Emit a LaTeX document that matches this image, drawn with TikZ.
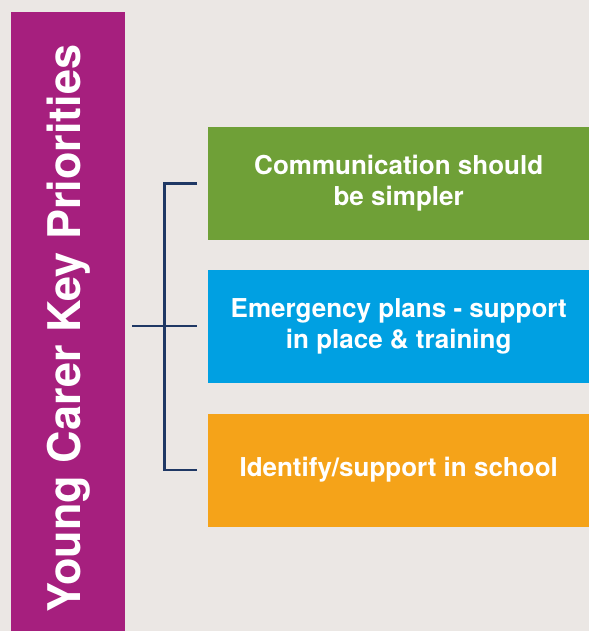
\documentclass[tikz,border=0pt]{standalone}
\usepackage{fontspec}
\setmainfont{TeX Gyre Heros}
\usetikzlibrary{positioning}
\definecolor{paper}{HTML}{EBE7E4}
\definecolor{plum}{HTML}{A61F7E}
\definecolor{leaf}{HTML}{6FA037}
\definecolor{sky}{HTML}{00A0E2}
\definecolor{amber}{HTML}{F5A319}
\definecolor{navy}{HTML}{1F3864}
\begin{document}
\begin{tikzpicture}[x=1pt, y=-1pt,
    node font=\bfseries\fontsize{26}{31}\selectfont,
    prio/.style={minimum width=381pt, minimum height=113pt,
      inner sep=0pt, text=white, align=center},
    link/.style={draw=navy, line width=2.7pt}]
  \fill [paper] (0,0) rectangle (589,631);
  \useasboundingbox (0,0) rectangle (589,631);
  \fill [plum] (11,12) rectangle (125,631);
  \node [rotate=90, anchor=base, inner sep=0pt, text=white,
    font=\bfseries\fontsize{45}{54}\selectfont] (title) at (80,328.5)
    {Young Carer Key Priorities};
  % priority boxes
  \node [prio, fill=leaf, anchor=north west] (comms) at (208,126.5)
    {Communication should\\be simpler};
  \node [prio, fill=sky, below=29.5pt of comms] (plans)
    {Emergency plans - support\\in place \& training};
  \node [prio, fill=amber, below=30.5pt of plans] (school)
    {Identify/support in school};
  % bracket
  \coordinate (c1) at ([xshift=-11pt]comms.west);
  \coordinate (c2) at ([xshift=-11pt]plans.west);
  \coordinate (c3) at ([xshift=-11pt]school.west);
  \coordinate (s1) at ([xshift=-43.5pt]comms.west);
  \coordinate (s3) at ([xshift=-43.5pt]school.west);
  \coordinate (hub) at ([xshift=-76pt]plans.west);
  \draw [link] (c1) -- (s1) -- (s3) -- (c3);
  \draw [link] (hub) -- (c2);
\end{tikzpicture}
\end{document}
